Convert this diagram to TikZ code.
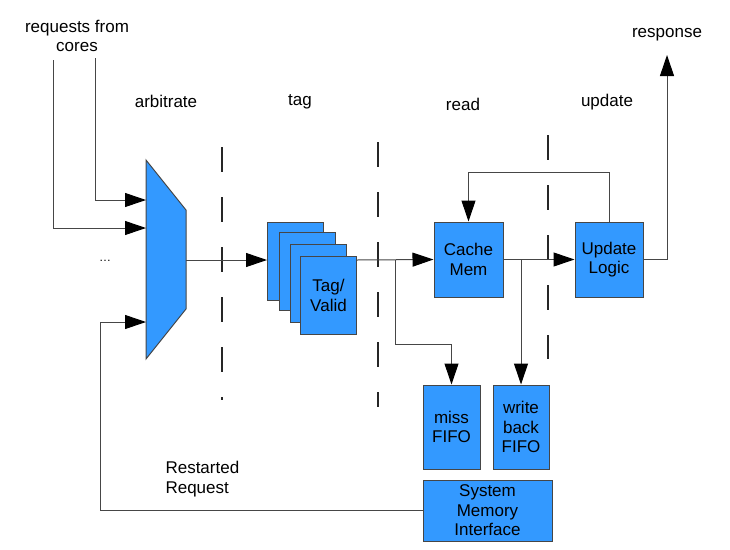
\documentclass[tikz,border=0pt]{standalone}
\usepackage{fontspec}
\setmainfont{Liberation Sans}
\usetikzlibrary{arrows.meta}
\definecolor{blockblue}{RGB}{51,153,255}
\definecolor{wire}{RGB}{70,70,70}
\begin{document}
\begin{tikzpicture}[x=1pt,y=-1pt, every node/.style={font=\fontsize{17}{19.5}\selectfont,align=center},
 block/.style={draw=wire,fill=blockblue,line width=1pt,inner sep=0pt},
 link/.style={draw=wire,line width=1pt},
 feed/.style={link,-{Triangle[length=21pt,width=14pt,color=black]}},
 stage/.style={draw=black!85,line width=1.2pt,dash pattern=on 25pt off 25pt}]
\useasboundingbox (0,0) rectangle (730,549);
% pipeline stage boundaries
\foreach \x/\a/\b in {222/147/400,378/142/407,548/135/359}
 \draw[stage] (\x,\a) -- (\x,\b);
% labels
\node (reqlabel) at (77,36) {requests from\\cores};
\node (arb) at (166,101) {arbitrate};
\node (tag) at (300,102) {tag};
\node (read) at (463,104) {read};
\node (upd) at (607,102) {update};
\node (resplabel) at (667,35) {response};
\node[anchor=west,align=left] (restart) at (162,479) {Restarted\\Request};
\node (dots) at (105,261) {\fontsize{12}{12}\selectfont\ldots};
% arbiter
\draw[block] (146,160) -- (186,210) -- (186,309) -- (146,359) -- cycle;
\coordinate (mux-in1) at (146,200);
\coordinate (mux-in2) at (146,228);
\coordinate (mux-in3) at (146,322);
\coordinate (mux-out) at (186,260);
\coordinate (req1) at (53,60);
\coordinate (req2) at (95,58);
\coordinate (resp) at (667,55);
% blocks
\node[block,minimum width=69pt,minimum height=75pt] (cache) at (468.5,259.5) {Cache\\Mem};
\node[block,minimum width=68pt,minimum height=75pt] (update) at (609,259.5) {Update\\Logic};
\node[block,minimum width=57pt,minimum height=84pt] (miss) at (451.5,427) {miss\\FIFO};
\node[block,minimum width=56pt,minimum height=84pt] (wb) at (521,427) {write\\back\\FIFO};
\node[block,minimum width=129pt,minimum height=61pt] (smi) at (487.5,510.5) {System\\Memory\\Interface};
\coordinate (split1) at (395,260);
\coordinate (split2) at (521,260);
% connectors
\draw[feed] (req1) |- (mux-in2);
\draw[feed] (req2) |- (mux-in1);
\draw[feed] (smi.west) -| (100,322) -- (mux-in3);
\draw[feed] (mux-out) -- (267,260);
\draw[feed] (357,260) -- (cache.west);
\draw[feed] (split1) -- (395,344) -| (miss.north);
\draw[feed] (split2) -- (wb.north);
\draw[feed] (cache.east) -- (update.west);
\draw[feed] (update.north) -- ++(0,-49) -| (cache.north);
\draw[feed] (update.east) -| (resp);
% tag/valid banks
\foreach \i/\x/\y in {1/295/261.5,2/307/271.5,3/318/283,4/328.5/295.5}
 \node[block,minimum width=56pt,minimum height=78pt] (tv\i) at (\x,\y) {};
\node (tvtext) at (tv4.center) {Tag/\\Valid};
\end{tikzpicture}
\end{document}
